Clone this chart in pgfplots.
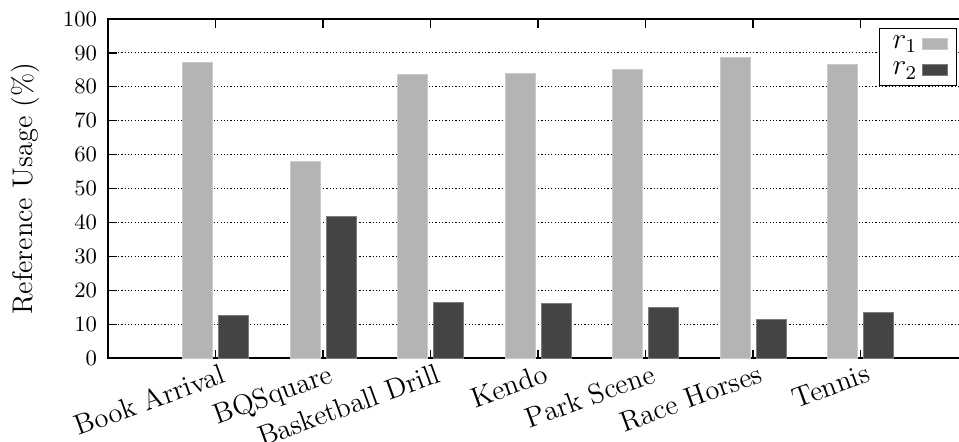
\documentclass[border=0pt]{standalone}
\usepackage{pgfplots}
\pgfplotsset{compat=1.18}

\definecolor{rone}{RGB}{180,180,180}
\definecolor{rtwo}{RGB}{68,68,68}

\begin{document}
\begin{tikzpicture}
\begin{axis}[
  name=ax,
  scale only axis,
  width=351pt, height=138.4pt,
  xmin=-1, xmax=7,
  ymin=0, ymax=100,
  ybar=2.45pt, bar width=12.2pt,
  xtick={0,1,2,3,4,5,6},
  xticklabels={Book Arrival, BQSquare, Basketball Drill, Kendo, Park Scene, Race Horses, Tennis},
  xticklabel style={rotate=20, anchor=north east, xshift=4.5pt, yshift=1pt,
    font=\fontsize{11.6}{13}\selectfont},
  ytick={0,10,...,100},
  yticklabel style={font=\small, xshift=-1pt},
  ytick pos=left,
  tick align=inside,
  major tick length=3.5pt,
  tick style={black, line width=0.5pt},
  ymajorgrids,
  major grid style={black, line width=0.4pt, dash pattern=on 0.5pt off 0.85pt},
  axis line style={black, line width=0.6pt},
  ylabel={Reference Usage (\%)},
  every axis y label/.style={at={(axis description cs:-0.0965,0.5)}, rotate=90, anchor=center,
    font=\fontsize{11.6}{13}\selectfont},
  legend plot pos=right,
  legend cell align=left,
  legend image code/.code={\fill[#1] (0pt,-2.3pt) rectangle (10.2pt,2.3pt);},
  legend style={at={(axis description cs:1,1)}, anchor=north east,
    xshift=-4.5pt, yshift=-3.7pt, draw=black, line width=0.4pt,
    inner xsep=3.5pt, inner ysep=1pt, row sep=0pt, font=\fontsize{11.6}{13}\selectfont},
]
% share of references drawn from r1 and r2 per sequence
\addplot[fill=rone, draw=rone!70!white, line width=0.3pt] coordinates {
  (0,87.3) (1,58.1) (2,83.7) (3,84.0) (4,85.0) (5,88.6) (6,86.6)
};
\addplot[fill=rtwo, draw=rtwo!70!white, line width=0.3pt] coordinates {
  (0,12.7) (1,41.9) (2,16.3) (3,16.0) (4,15.0) (5,11.4) (6,13.4)
};
\legend{$r_1$, $r_2$}
\end{axis}
\pgfresetboundingbox
\path ([shift={(-44.1pt,-33.9pt)}]ax.south west) rectangle ([shift={(-3.67pt,7.75pt)}]ax.north east);
\end{tikzpicture}
\end{document}
